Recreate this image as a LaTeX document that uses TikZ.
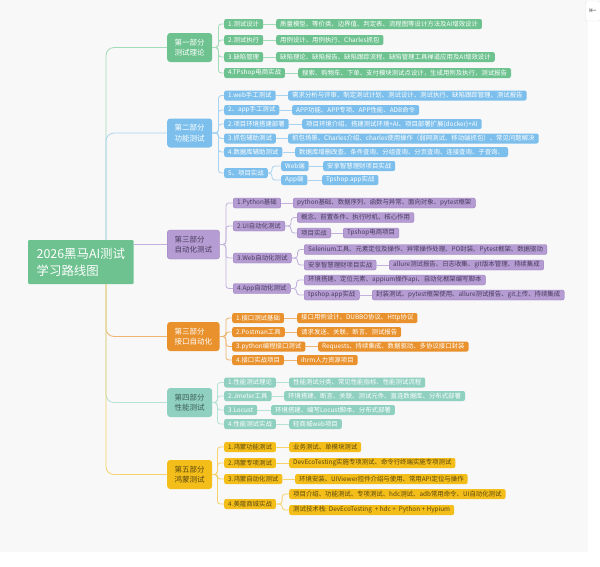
\documentclass[tikz,border=0pt]{standalone}
\usepackage{fontspec}
\setmainfont{Noto Sans CJK SC}
\newfontfamily\symfont{DejaVu Sans}

\definecolor{canvas}{HTML}{F8F8F8}
\definecolor{grFill}{HTML}{6DC28F}
\definecolor{grLine}{HTML}{A3DAB8}
\definecolor{blFill}{HTML}{7CBFEC}
\definecolor{blLine}{HTML}{A8D3F1}
\definecolor{puFill}{HTML}{B59DD3}
\definecolor{puEdge}{HTML}{9C80C1}
\definecolor{puText}{HTML}{4A3C5E}
\definecolor{puLine}{HTML}{C3B0DC}
\definecolor{orFill}{HTML}{E9912C}
\definecolor{orLine}{HTML}{EFB470}
\definecolor{teFill}{HTML}{8FD0C0}
\definecolor{teText}{HTML}{3E5E57}
\definecolor{teLine}{HTML}{B6E1D6}
\definecolor{yeFill}{HTML}{F3BD1A}
\definecolor{yeText}{HTML}{5C4810}
\definecolor{yeLine}{HTML}{F5D26B}

\tikzset{
  topic/.style={anchor=west, rounded corners=3pt, align=left, inner xsep=7.5pt,
    inner ysep=0pt, minimum height=29pt, font=\fontsize{7.5}{10.5}\selectfont},
  item/.style={anchor=west, rounded corners=2pt, inner xsep=4pt, inner ysep=0pt,
    minimum height=10pt, font=\fontsize{6.4}{7}\selectfont},
  link/.style={line width=0.8pt, rounded corners=3pt},
  grTopic/.style={topic, fill=grFill, text=white},
  grItem/.style={item, fill=grFill, text=white},
  grLink/.style={link, draw=grLine},
  blTopic/.style={topic, fill=blFill, text=white},
  blItem/.style={item, fill=blFill, text=white},
  blLink/.style={link, draw=blLine},
  puTopic/.style={topic, fill=puFill, draw=puEdge, text=puText},
  puItem/.style={item, fill=puFill, draw=puEdge, text=puText},
  puLink/.style={link, draw=puLine},
  orTopic/.style={topic, fill=orFill, text=white},
  orItem/.style={item, fill=orFill, text=white},
  orLink/.style={link, draw=orLine},
  teTopic/.style={topic, fill=teFill, text=teText},
  teItem/.style={item, fill=teFill, text=white},
  teLink/.style={link, draw=teLine},
  yeTopic/.style={topic, fill=yeFill, text=yeText},
  yeItem/.style={item, fill=yeFill, text=yeText},
  yeLink/.style={link, draw=yeLine},
}

\begin{document}
\begin{tikzpicture}[x=1pt, y=-1pt]
  \useasboundingbox (0,0) rectangle (600,566);
  \fill[white] (0,0) rectangle (600,566);
  \fill[canvas] (0,0) rectangle (588,552);
  \coordinate (trunk) at (106,262);

  % root
  \node[anchor=west, fill=grFill, text=white, align=left, inner xsep=8.5pt,
    minimum height=44pt, rounded corners=1pt, font=\fontsize{12.4}{17}\selectfont]
    (root) at (28,262) {2026黑马AI测试\\学习路线图};

  % collapse button
  \node[fill=white, draw=gray!20, rounded corners=1.5pt, minimum width=15pt,
    minimum height=20pt, inner sep=0pt, text=gray,
    font=\symfont\fontsize{9}{9}\selectfont]
    (pin) at (593,11) {⇤};

  % part 1
  \node[grTopic] (p1) at (167,47.5) {第一部分\\测试理论};
  \foreach \n/\y/\t in {a/24/{1.测试设计}, b/40/{2.测试执行}, c/57/{3.缺陷管理},
      d/73/{4.TPshop电商实战}}
    \node[grItem] (p1\n) at (224,\y) {\t};
  \foreach \n/\x/\y/\t in {
      a/276/24/{质量模型、等价类、边界值、判定表、流程图等设计方法及AI增效设计},
      b/276/40/{用例设计、用例执行、Charles抓包},
      c/276/57/{缺陷理论、缺陷报告、缺陷跟踪流程、缺陷管理工具禅道应用及AI增效设计},
      d/298/73/{搜索、购物车、下单、支付模块测试点设计，生成用例及执行，测试报告}}
    \node[grItem] (p1\n1) at (\x,\y) {\t};
  \foreach \n in {a,b,c,d} {
    \draw[grLink] (p1.east) -- ++(6,0) |- (p1\n.west);
    \draw[grLink] (p1\n.east) -- (p1\n1.west);
  }

  % part 2
  \node[blTopic] (p2) at (167,133) {第二部分\\功能测试};
  \foreach \n/\y/\t in {a/95.5/{1.web手工测试}, b/110/{2、app手工测试},
      c/124/{2.项目环境搭建部署}, d/138.5/{3.抓包辅助测试}, e/152/{4.数据库辅助测试},
      f/173/{5、项目实战}}
    \node[blItem] (p2\n) at (224,\y) {\t};
  \foreach \n/\x/\y/\t in {
      a/288/95.5/{需求分析与评审、制定测试计划、测试设计、测试执行、缺陷跟踪管理、测试报告},
      b/292/110/{APP功能、APP专项、APP性能、ADB命令},
      c/302/124/{项目环境介绍、搭建测试环境+AI、项目部署扩展(docker)+AI},
      d/288/138.5/{抓包场景、Charles介绍、charles使用操作（弱网测试、移动端抓包）、常见问题解决},
      e/295/152/{数据库增删改查、条件查询、分组查询、分页查询、连接查询、子查询、}}
    \node[blItem] (p2\n1) at (\x,\y) {\t};
  \node[blItem] (p2f1) at (281,166) {Web端};
  \node[blItem] (p2f2) at (281,180) {App端};
  \node[blItem] (p2f11) at (323,166) {安享智慧理财项目实战};
  \node[blItem] (p2f21) at (322,180) {Tpshop.app实战};
  \foreach \n in {a,b,c,d,e,f}
    \draw[blLink] (p2.east) -- ++(6,0) |- (p2\n.west);
  \foreach \n in {a,b,c,d,e}
    \draw[blLink] (p2\n.east) -- (p2\n1.west);
  \foreach \n in {1,2} {
    \draw[blLink] (p2f.east) -- ++(4,0) |- (p2f\n.west);
    \draw[blLink] (p2f\n.east) -- (p2f\n1.west);
  }

  % part 3
  \node[puTopic] (p3) at (167,244.5) {第三部分\\自动化测试};
  \foreach \n/\y/\t in {a/203/{1.Python基础}, b/226/{2.UI自动化测试},
      c/258/{3.Web自动化测试}, d/288.5/{4.App自动化测试}}
    \node[puItem] (p3\n) at (233,\y) {\t};
  \node[puItem] (p3a1) at (293,203) {python基础、数据序列、函数与异常、面向对象、pytest框架};
  \node[puItem] (p3b1) at (297,217.5) {概念、前置条件、执行时机、核心作用};
  \node[puItem] (p3b2) at (297,233) {项目实战};
  \node[puItem] (p3b21) at (343,233) {Tpshop电商项目};
  \node[puItem] (p3c1) at (304,249.5)
    {Selenium工具、元素定位及操作、异常操作处理、PO封装、Pytest框架、数据驱动};
  \node[puItem] (p3c2) at (304,265) {安享智慧理财项目实战};
  \node[puItem] (p3c21) at (389,265) {allure测试报告、日志收集、git版本管理、持续集成};
  \node[puItem] (p3d1) at (304,280) {环境搭建、定位元素、appium操作api、自动化框架编写脚本};
  \node[puItem] (p3d2) at (304,295) {tpshop.app实战};
  \node[puItem] (p3d21) at (372,295)
    {封装测试、pytest框架使用、allure测试报告、git上传、持续集成};
  \foreach \n in {a,b,c,d}
    \draw[puLink] (p3.east) -- ++(6,0) |- (p3\n.west);
  \draw[puLink] (p3a.east) -- (p3a1.west);
  \foreach \n in {b,c,d} {
    \draw[puLink] (p3\n.east) -- ++(6,0) |- (p3\n1.west);
    \draw[puLink] (p3\n.east) -- ++(6,0) |- (p3\n2.west);
    \draw[puLink] (p3\n2.east) -- (p3\n21.west);
  }

  % part 4
  \node[orTopic] (p4) at (167,336.5) {第三部分\\接口自动化};
  \foreach \n/\y/\t in {a/318/{1.接口测试基础}, b/332/{2.Postman工具},
      c/346.5/{3.python编程接口测试}, d/360/{4.接口实战项目}}
    \node[orItem] (p4\n) at (232,\y) {\t};
  \foreach \n/\x/\y/\t in {
      a/297/318/{接口用例设计、DUBBO协议、Http协议},
      b/297/332/{请求发送、关联、断言、测试报告},
      c/318/346.5/{Requests、持续集成、数据驱动、多协议接口封装},
      d/297/360/{ihrm人力资源项目}}
    \node[orItem] (p4\n1) at (\x,\y) {\t};
  \foreach \n in {a,b,c,d} {
    \draw[orLink] (p4.east) -- ++(6,0) |- (p4\n.west);
    \draw[orLink] (p4\n.east) -- (p4\n1.west);
  }

  % part 5
  \node[teTopic] (p5) at (167,402.5) {第四部分\\性能测试};
  \foreach \n/\y/\t in {a/382.5/{1.性能测试理论}, b/396/{2.Jmeter工具},
      c/410/{3.Locust}, d/424/{4.性能测试实战}}
    \node[teItem] (p5\n) at (224,\y) {\t};
  \foreach \n/\x/\y/\t in {
      a/289/382.5/{性能测试分类、常见性能指标、性能测试流程},
      b/284/396/{环境搭建、断言、关联、测试元件、直连数据库、分布式部署},
      c/271/410/{环境搭建、编写Locust脚本、分布式部署},
      d/289/424/{轻商城web项目}}
    \node[teItem] (p5\n1) at (\x,\y) {\t};
  \foreach \n in {a,b,c,d} {
    \draw[teLink] (p5.east) -- ++(5,0) |- (p5\n.west);
    \draw[teLink] (p5\n.east) -- (p5\n1.west);
  }

  % part 6
  \node[yeTopic] (p6) at (167,474.5) {第五部分\\鸿蒙测试};
  \foreach \n/\y/\t in {a/447/{1.鸿蒙功能测试}, b/463/{2.鸿蒙专项测试},
      c/479/{3.鸿蒙自动化测试}, d/504/{4.美蔻商城实战}}
    \node[yeItem] (p6\n) at (224,\y) {\t};
  \foreach \n/\x/\y/\t in {
      a/289/447/{业务测试、单模块测试},
      b/289/463/{DevEcoTesting实施专项测试、命令行终端实施专项测试},
      c/295/479/{环境安装、UIViewer控件介绍与使用、常用API定位与操作}}
    \node[yeItem] (p6\n1) at (\x,\y) {\t};
  \node[yeItem] (p6d1) at (289,494) {项目介绍、功能测试、专项测试、hdc测试、adb常用命令、UI自动化测试};
  \node[yeItem] (p6d2) at (289,510) {测试技术栈: DevEcoTesting\ \ + hdc +\ \ Python + Hypium};
  \foreach \n in {a,b,c,d}
    \draw[yeLink] (p6.east) -- ++(5,0) |- (p6\n.west);
  \foreach \n in {a,b,c}
    \draw[yeLink] (p6\n.east) -- (p6\n1.west);
  \foreach \n in {1,2}
    \draw[yeLink] (p6d.east) -- ++(6,0) |- (p6d\n.west);

  % trunk
  \draw[grLink, rounded corners=8pt] (root.north -| trunk) |- (p1.west);
  \draw[blLink, rounded corners=8pt] (root.north -| trunk) |- (p2.west);
  \draw[puLink] (root.east |- p3.west) -- (p3.west);
  \draw[orLink, rounded corners=8pt] (root.south -| trunk) |- (p4.west);
  \draw[teLink, rounded corners=8pt] (root.south -| trunk) |- (p5.west);
  \draw[yeLink, rounded corners=8pt] (root.south -| trunk) |- (p6.west);
\end{tikzpicture}
\end{document}
